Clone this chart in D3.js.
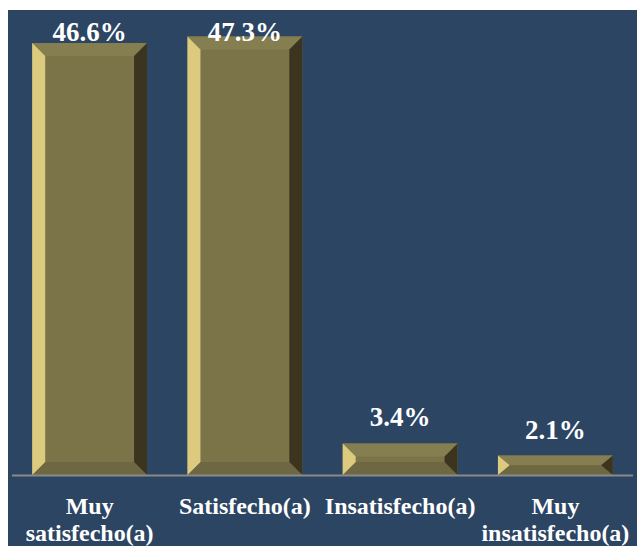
<!DOCTYPE html>
<html>
<head>
<meta charset="utf-8">
<script src="https://cdn.jsdelivr.net/npm/d3@7"></script>
<style>
  body { margin: 0; background: #fff; }
  svg { display: block; }
</style>
</head>
<body>
<div class="render"></div>
<script>
var categories = [['Muy', 'satisfecho(a)'], ['Satisfecho(a)'], ['Insatisfecho(a)'], ['Muy', 'insatisfecho(a)']];
var values = [46.6, 47.3, 3.4, 2.1];
var valueLabels = ['46.6%', '47.3%', '3.4%', '2.1%'];

var w = 637, h = 546;
var font = 'Liberation Serif, DejaVu Serif, serif';

var svg = d3.select('.render').append('svg').attr('width', w).attr('height', h);

svg.append('rect').attr('x', 8).attr('y', 10).attr('width', w - 8).attr('height', h - 10).attr('fill', '#2c4563');

var x = d3.scaleBand().domain(d3.range(values.length)).range([12, 633]).paddingInner(0.26).paddingOuter(0.13);
var y = d3.scaleLinear().domain([0, 50]).range([475, 11.5]);

var bars = svg.selectAll('g.bar').data(values).enter().append('g').attr('class', 'bar');

bars.each(function (d, i) {
   var g = d3.select(this);
   var x0 = x(i), x1 = x(i) + x.bandwidth();
   var y0 = y(d), y1 = y(0);
   var b = Math.min(13, (y1 - y0) / 2);
   var bx = Math.min(13, b * 1.2);
   function poly(pts, fill) {
      g.append('polygon').attr('points', pts.map(function (p) { return p.join(','); }).join(' ')).attr('fill', fill);
   }
   // front face
   poly([[x0, y0], [x1, y0], [x1, y1], [x0, y1]], '#7b7449');
   // top facet
   poly([[x0, y0], [x1, y0], [x1 - bx, y0 + b], [x0 + bx, y0 + b]], '#857e50');
   // bottom facet
   poly([[x0, y1], [x1, y1], [x1 - bx, y1 - b], [x0 + bx, y1 - b]], '#6d6742');
   // left facet
   poly([[x0, y0], [x0 + bx, y0 + b], [x0 + bx, y1 - b], [x0, y1]], '#dccb7f');
   // right facet
   poly([[x1, y0], [x1 - bx, y0 + b], [x1 - bx, y1 - b], [x1, y1]], '#3b3520');
});

svg.append('line').attr('x1', 12).attr('x2', 633).attr('y1', y(0) + 0.5).attr('y2', y(0) + 0.5)
   .attr('stroke', '#8a8a8a').attr('stroke-width', 2);

svg.selectAll('text.val').data(values).enter().append('text').attr('class', 'val')
   .attr('x', function (d, i) { return x(i) + x.bandwidth() / 2; })
   .attr('y', function (d) { return Math.max(y(d) - 17, 41); })
   .attr('text-anchor', 'middle')
   .attr('fill', '#fff')
   .style('font-family', font).style('font-weight', 'bold').style('font-size', '27px')
   .text(function (d, i) { return valueLabels[i]; });

var cats = svg.selectAll('text.cat').data(categories).enter().append('text').attr('class', 'cat')
   .attr('x', function (d, i) { return x(i) + x.bandwidth() / 2; })
   .attr('y', 514)
   .attr('text-anchor', 'middle')
   .attr('fill', '#fff')
   .style('font-family', font).style('font-weight', 'bold').style('font-size', '24px');
cats.selectAll('tspan').data(function (d) { return d; }).enter().append('tspan')
   .attr('x', function () { return d3.select(this.parentNode).attr('x'); })
   .attr('dy', function (d, i) { return i === 0 ? 0 : 27; })
   .text(function (d) { return d; });
</script>
</body>
</html>
